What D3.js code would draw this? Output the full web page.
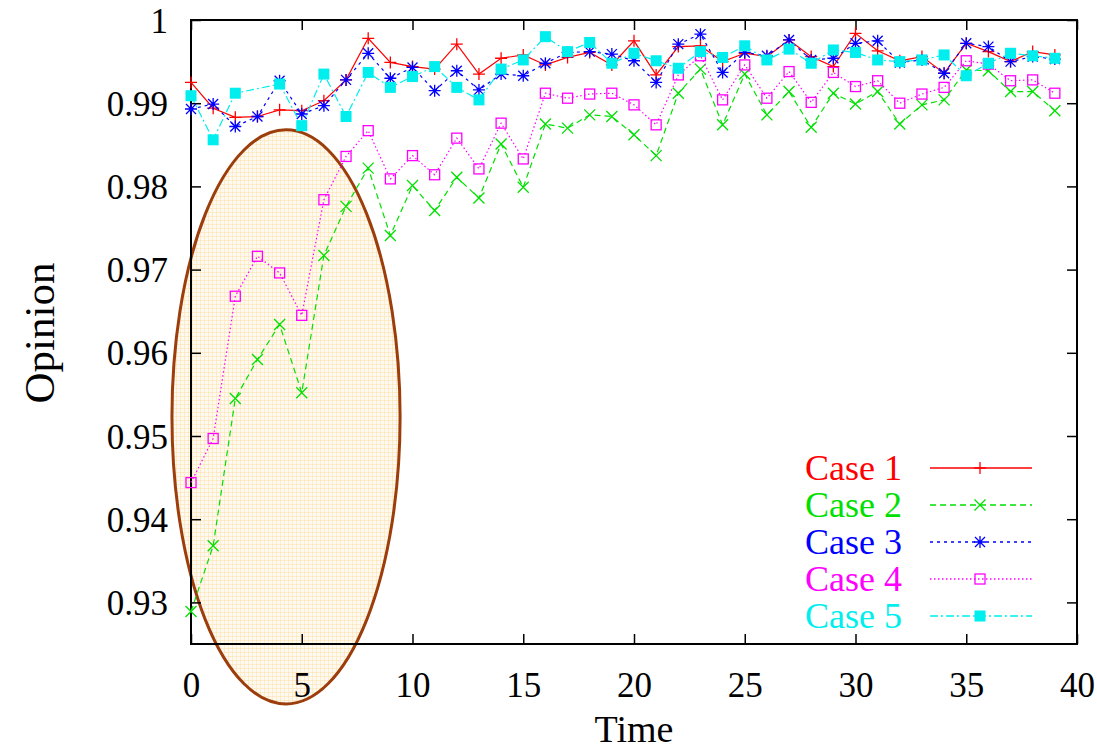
<!DOCTYPE html>
<html>
<head>
<meta charset="utf-8">
<script src="https://cdn.jsdelivr.net/npm/d3@7"></script>
<style>
  html, body { margin: 0; padding: 0; background: #fff; }
  text { font-family: "Liberation Serif", "DejaVu Serif", serif; }
</style>
</head>
<body>
<div id="chart"></div>
<script>
// values
const times = [0,1,2,3,4,5,6,7,8,9,10,11,12,13,14,15,16,17,18,19,20,21,22,23,24,25,26,27,28,29,30,31,32,33,34,35,36,37,38,39];

const case1 = [0.9925,0.9894,0.9883,0.9884,0.9892,0.9891,0.9903,0.9928,0.9978,0.9949,
               0.9944,0.9941,0.9971,0.9935,0.9954,0.9958,0.9946,0.9955,0.9961,0.9946,
               0.9975,0.9934,0.9968,0.9969,0.9950,0.9960,0.9956,0.9976,0.9956,0.9944,
               0.9984,0.9963,0.9951,0.9956,0.9936,0.9972,0.9962,0.9950,0.9962,0.9958];
const case2 = [0.9289,0.9368,0.9545,0.9592,0.9634,0.9552,0.9717,0.9776,0.9822,0.9741,
               0.9801,0.9771,0.9811,0.9786,0.9851,0.9799,0.9875,0.9870,0.9886,0.9884,
               0.9862,0.9837,0.9912,0.9941,0.9874,0.9935,0.9886,0.9914,0.9871,0.9912,
               0.9899,0.9914,0.9875,0.9898,0.9904,0.9940,0.9939,0.9914,0.9914,0.9891];
const case3 = [0.9893,0.9899,0.9872,0.9884,0.9927,0.9887,0.9897,0.9928,0.9960,0.9930,
               0.9943,0.9915,0.9939,0.9916,0.9935,0.9933,0.9948,0.9961,0.9962,0.9959,
               0.9951,0.9925,0.9971,0.9983,0.9937,0.9961,0.9957,0.9976,0.9952,0.9954,
               0.9972,0.9975,0.9949,0.9952,0.9936,0.9972,0.9968,0.9950,0.9956,0.9953];
const case4 = [0.9444,0.9497,0.9668,0.9716,0.9696,0.9645,0.9784,0.9836,0.9867,0.9809,
               0.9837,0.9814,0.9858,0.9821,0.9876,0.9833,0.9912,0.9906,0.9911,0.9912,
               0.9898,0.9874,0.9934,0.9957,0.9904,0.9946,0.9906,0.9938,0.9901,0.9937,
               0.9920,0.9927,0.9900,0.9911,0.9919,0.9951,0.9947,0.9927,0.9928,0.9912];
// no point is drawn at t=3 for case 5
const case5 = [0.9909,0.9856,0.9912,null,0.9923,0.9873,0.9935,0.9884,0.9937,0.9919,
               0.9932,0.9944,0.9919,0.9904,0.9941,0.9952,0.9980,0.9962,0.9973,0.9948,
               0.9960,0.9951,0.9942,0.9962,0.9955,0.9969,0.9952,0.9965,0.9948,0.9964,
               0.9961,0.9952,0.9950,0.9952,0.9958,0.9933,0.9948,0.9960,0.9957,0.9954];

const seriesNames = ["Case 1", "Case 2", "Case 3", "Case 4", "Case 5"];
const xTicks = [0,5,10,15,20,25,30,35,40];
const yTicks = [0.93,0.94,0.95,0.96,0.97,0.98,0.99,1];

// highlighted region (data units): centre and radii
const highlight = { t: 4.29, v: 0.9523, rt: 5.15, rv: 0.0345 };

const width = 1097, height = 753;
const plotL = 191, plotR = 1077, plotT = 20, plotB = 644;

const svg = d3.select("#chart").append("svg")
  .attr("width", width).attr("height", height)
  .style("display", "block");

svg.append("rect").attr("width", width).attr("height", height).attr("fill", "#fff");

const x = d3.scaleLinear().domain([0, 40]).range([plotL, plotR]);
const y = d3.scaleLinear().domain([0.925, 1]).range([plotB, plotT]);

// fine grid fill for the ellipse
const defs = svg.append("defs");
const pat = defs.append("pattern").attr("id", "grid")
  .attr("width", 4).attr("height", 4).attr("patternUnits", "userSpaceOnUse");
pat.append("rect").attr("width", 4).attr("height", 4).attr("fill", "#fffaf1");
pat.append("path").attr("d", "M0,0.5H4M0.5,0V4").attr("stroke", "#fde0b0").attr("stroke-width", 0.6);

svg.append("ellipse")
  .attr("cx", x(highlight.t)).attr("cy", y(highlight.v))
  .attr("rx", x(highlight.rt) - x(0)).attr("ry", y(0.95) - y(0.95 + highlight.rv))
  .attr("fill", "url(#grid)")
  .attr("stroke", "#9c3d0c").attr("stroke-width", 3);

// axes, gnuplot-style: ticks inside, mirrored
const tickLen = 10;
const axisG = svg.append("g").attr("font-size", 34);

axisG.append("g").attr("transform", `translate(0,${plotB})`)
  .call(d3.axisBottom(x).tickValues(xTicks).tickSize(-tickLen).tickFormat(d3.format("d")))
  .call(g => g.select(".domain").remove())
  .call(g => g.selectAll("text").attr("font-size", 35).attr("font-family", "Liberation Serif").attr("fill", "#000").attr("y", 53).attr("dy", 0));
axisG.append("g").attr("transform", `translate(0,${plotT})`)
  .call(d3.axisTop(x).tickValues(xTicks).tickSize(-tickLen).tickFormat(""))
  .call(g => g.select(".domain").remove());
axisG.append("g").attr("transform", `translate(${plotL},0)`)
  .call(d3.axisLeft(y).tickValues(yTicks).tickSize(-tickLen).tickFormat(d => d === 1 ? "1" : d3.format(".2f")(d)))
  .call(g => g.select(".domain").remove())
  .call(g => g.selectAll("text").attr("font-size", 35).attr("font-family", "Liberation Serif").attr("fill", "#000").attr("x", -23).attr("dy", 12));
axisG.append("g").attr("transform", `translate(${plotR},0)`)
  .call(d3.axisRight(y).tickValues(yTicks).tickSize(-tickLen).tickFormat(""))
  .call(g => g.select(".domain").remove());
axisG.selectAll(".tick line").attr("stroke", "#000").attr("stroke-width", 1.5);

svg.append("rect")
  .attr("x", plotL).attr("y", plotT).attr("width", plotR - plotL).attr("height", plotB - plotT)
  .attr("fill", "none").attr("stroke", "#000").attr("stroke-width", 2);

// axis titles
svg.append("text").attr("x", (plotL + plotR) / 2).attr("y", 742)
  .attr("text-anchor", "middle").attr("font-size", 38).text("Time");
svg.append("text").attr("transform", "translate(54,333) rotate(-90)")
  .attr("text-anchor", "middle").attr("font-size", 43).text("Opinion");

// series
const styles = [
  { color: "#ff0000", dash: null, marker: "plus" },
  { color: "#00e000", dash: "6,4", marker: "cross" },
  { color: "#0000ff", dash: "3,4", marker: "star" },
  { color: "#ff00ff", dash: "1.5,2.5", marker: "box" },
  { color: "#00eeee", dash: "8,3,2,3", marker: "fbox" }
];
const allSeries = [case1, case2, case3, case4, case5];

function drawMarker(g, type, color) {
  if (type === "plus") {
    g.append("path").attr("d", "M-6,0H6M0,-6V6").attr("stroke", color).attr("stroke-width", 1.3);
  } else if (type === "cross") {
    g.append("path").attr("d", "M-5.5,-5.5L5.5,5.5M-5.5,5.5L5.5,-5.5").attr("stroke", color).attr("stroke-width", 1.3);
  } else if (type === "star") {
    g.append("path").attr("d", "M-6,0H6M0,-6V6M-5,-5L5,5M-5,5L5,-5").attr("stroke", color).attr("stroke-width", 1.3);
  } else if (type === "box") {
    g.append("rect").attr("x", -5).attr("y", -5).attr("width", 10).attr("height", 10)
      .attr("fill", "none").attr("stroke", color).attr("stroke-width", 1.3);
  } else {
    g.append("rect").attr("x", -5.5).attr("y", -5.5).attr("width", 11).attr("height", 11).attr("fill", color);
  }
}

const line = d3.line().x(d => x(d.t)).y(d => y(d.v));

allSeries.forEach((vals, i) => {
  const s = styles[i];
  const pts = times.map((t, k) => ({ t, v: vals[k] })).filter(d => d.v !== null);
  const g = svg.append("g");
  g.append("path").datum(pts).attr("d", line)
    .attr("fill", "none").attr("stroke", s.color).attr("stroke-width", 1.2)
    .attr("stroke-dasharray", s.dash);
  pts.forEach(d => {
    const m = g.append("g").attr("transform", `translate(${x(d.t)},${y(d.v)})`);
    drawMarker(m, s.marker, s.color);
  });
});

// legend
const legend = svg.append("g");
seriesNames.forEach((name, i) => {
  const s = styles[i];
  const ly = 468 + i * 37;
  legend.append("text").attr("x", 805).attr("y", ly + 12)
    .attr("font-size", 36).attr("fill", s.color).text(name);
  legend.append("path").attr("d", `M930,${ly}H1032`)
    .attr("fill", "none").attr("stroke", s.color).attr("stroke-width", 1.4)
    .attr("stroke-dasharray", s.dash);
  const m = legend.append("g").attr("transform", `translate(980,${ly})`);
  drawMarker(m, s.marker, s.color);
});
</script>
</body>
</html>
